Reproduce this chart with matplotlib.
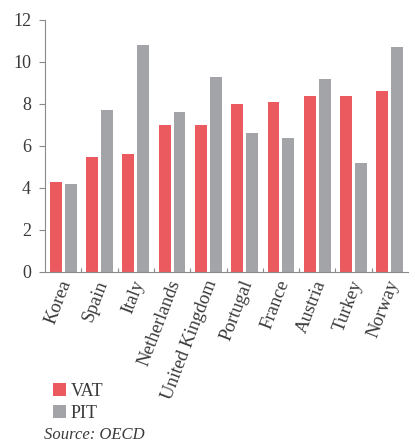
import matplotlib
matplotlib.use("Agg")
import matplotlib.pyplot as plt
import matplotlib.transforms as mtransforms
from matplotlib.patches import Patch
import numpy as np

countries = ["Korea", "Spain", "Italy", "Netherlands", "United Kingdom",
             "Portugal", "France", "Austria", "Turkey", "Norway"]
vat = [4.3, 5.5, 5.6, 7.0, 7.0, 8.0, 8.1, 8.4, 8.4, 8.6]
pit = [4.2, 7.7, 10.8, 7.6, 9.3, 6.6, 6.4, 9.2, 5.2, 10.7]
y_ticks = [0, 2, 4, 6, 8, 10, 12]

RED = "#eb5a5f"
GREY = "#a2a4a7"
AXIS = "#8a8a8a"
TEXT = "#3a3a3a"

plt.rcParams["font.family"] = ["Liberation Serif", "DejaVu Serif"]

fig = plt.figure(figsize=(4.15, 4.43), dpi=100)
ax = fig.add_axes([45 / 415, 1 - 272 / 443, 363 / 415, 252 / 443])

x = np.arange(len(countries))
w = 0.33
off = 0.205
ax.bar(x - off, vat, width=w, color=RED, linewidth=0)
ax.bar(x + off, pit, width=w, color=GREY, linewidth=0)

ax.set_xlim(-0.5, len(countries) - 0.5)
ax.set_ylim(0, 12)
ax.set_yticks(y_ticks)
ax.set_yticklabels([str(t) for t in y_ticks], fontsize=13, color=TEXT)

for s in ["top", "right"]:
    ax.spines[s].set_visible(False)
for s in ["left", "bottom"]:
    ax.spines[s].set_color(AXIS)
    ax.spines[s].set_linewidth(0.8)

ax.tick_params(axis="y", length=4, width=0.8, color=AXIS, pad=6)

# category labels at group centres, separator ticks between groups
ax.set_xticks(x)
ax.set_xticklabels(countries, rotation=69, ha="right", rotation_mode="anchor",
                   fontsize=13.5, color=TEXT)
ax.tick_params(axis="x", length=0, pad=4)
shift = mtransforms.ScaledTranslation(-4 / 100, 0, fig.dpi_scale_trans)
for lab in ax.get_xticklabels():
    lab.set_transform(lab.get_transform() + shift)
ax.set_xticks(x[:-1] + 0.5, minor=True)
ax.tick_params(axis="x", which="minor", direction="in", length=3,
               width=0.8, color=AXIS)

handles = [Patch(facecolor=RED, edgecolor="none", label="VAT"),
           Patch(facecolor=GREY, edgecolor="none", label="PIT")]
fig.legend(handles=handles, loc="upper left",
           bbox_to_anchor=(40 / 415, 1 - 370 / 443), frameon=False,
           fontsize=13, handlelength=0.75, handleheight=0.75,
           handletextpad=0.25, labelspacing=0.3, borderpad=0.2,
           labelcolor=TEXT)

fig.text(44 / 415, 1 - 435 / 443, "Source: OECD", fontsize=12,
         style="italic", color=TEXT, va="center", ha="left")

fig.savefig("out.png", dpi=100, facecolor="white")
